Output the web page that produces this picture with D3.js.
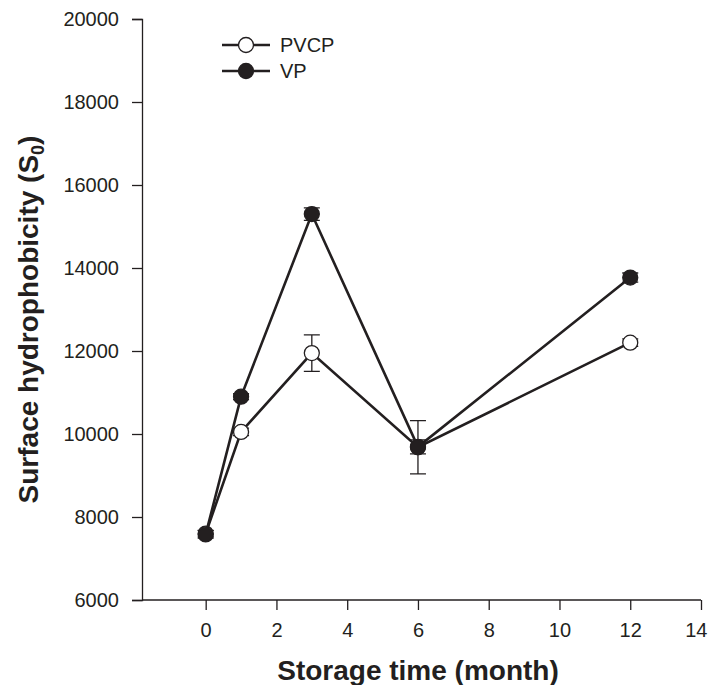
<!DOCTYPE html>
<html>
<head>
<meta charset="utf-8">
<script src="https://cdn.jsdelivr.net/npm/d3@7"></script>
<style>
  body { margin: 0; background: #fff; }
  text { font-family: "Liberation Sans", Arial, sans-serif; fill: #231f20; }
</style>
</head>
<body>
<div id="chart"></div>
<script>
(function hydrophobicity() {

  let width = 708,
    height = 685,
    margin = ({ top: 19, right: 7, bottom: 85, left: 142 });

  // storage time in months
  const months = [0, 1, 3, 6, 12];
  const pvcp = [7600, 10050, 11950, 9680, 12200];
  const pvcpErr = [80, 90, 440, 640, 90];
  const vp = [7580, 10900, 15300, 9690, 13770];
  const vpErr = [90, 70, 150, 170, 110];
  const xTicks = [0, 2, 4, 6, 8, 10, 12, 14];
  const yTicks = [6000, 8000, 10000, 12000, 14000, 16000, 18000, 20000];

  const svg = d3.select("#chart")
    .append("svg")
    .attr("width", width)
    .attr("height", height);

  let x = d3.scaleLinear()
    .domain([-1.8, 14])
    .range([margin.left, width - margin.right]);

  let y = d3.scaleLinear()
    .domain([6000, 20000])
    .range([height - margin.bottom, margin.top]);

  let xAxis = svg.append("g")
    .attr("transform", `translate(0,${y(6000)})`)
    .call(d3.axisBottom(x).tickValues(xTicks).tickSize(10).tickPadding(13));

  let yAxis = svg.append("g")
    .attr("transform", `translate(${margin.left},0)`)
    .call(d3.axisLeft(y).tickValues(yTicks).tickFormat(d3.format("d")).tickSize(10).tickPadding(13));

  for (let ax of [xAxis, yAxis]) {
    ax.select(".domain").attr("stroke", "#231f20").attr("stroke-width", 1.3);
    ax.selectAll(".tick line").attr("stroke", "#231f20").attr("stroke-width", 1.3);
    ax.selectAll(".tick text")
      .attr("font-size", 20)
      .attr("font-family", "Liberation Sans, Arial, sans-serif")
      .attr("fill", "#231f20");
  }
  // x axis line reaches the end of the plot
  xAxis.select(".domain").attr("d", `M${x(-1.8)},0H${x(14)}`);
  // last label sits against the page edge
  xAxis.selectAll(".tick text").filter(d => d === 14).attr("text-anchor", "end").attr("dx", 6);

  svg.append("text")
    .attr("x", 418)
    .attr("y", 680)
    .attr("text-anchor", "middle")
    .attr("font-size", 28)
    .attr("font-weight", "bold")
    .text("Storage time (month)");

  let yTitle = svg.append("text")
    .attr("transform", `translate(38,${(y(6000) + y(20000)) / 2 + 10}) rotate(-90)`)
    .attr("text-anchor", "middle")
    .attr("font-size", 28)
    .attr("font-weight", "bold");
  yTitle.append("tspan").text("Surface hydrophobicity (S");
  yTitle.append("tspan").attr("font-size", 18).attr("dy", 6).text("0");
  yTitle.append("tspan").attr("dy", -6).text(")");

  let series = [
    { name: "PVCP", values: pvcp, err: pvcpErr, fill: "#fff" },
    { name: "VP", values: vp, err: vpErr, fill: "#231f20" }
  ];

  let line = d3.line()
    .x((d, i) => x(months[i]))
    .y(d => y(d));

  for (let s of series) {
    let g = svg.append("g");

    g.append("path")
      .datum(s.values)
      .attr("fill", "none")
      .attr("stroke", "#231f20")
      .attr("stroke-width", 2.6)
      .attr("d", line);

    s.values.forEach((v, i) => {
      let cx = x(months[i]);
      let e = s.err[i];
      g.append("path")
        .attr("fill", "none")
        .attr("stroke", "#231f20")
        .attr("stroke-width", 1.3)
        .attr("d", `M${cx},${y(v + e)}V${y(v - e)}M${cx - 8},${y(v + e)}H${cx + 8}M${cx - 8},${y(v - e)}H${cx + 8}`);
    });

    g.selectAll("circle")
      .data(s.values)
      .join("circle")
      .attr("cx", (d, i) => x(months[i]))
      .attr("cy", d => y(d))
      .attr("r", 7.5)
      .attr("fill", s.fill)
      .attr("stroke", "#231f20")
      .attr("stroke-width", 1.3);
  }

  // legend
  let legend = svg.append("g");
  series.forEach((s, i) => {
    let ly = 45 + i * 26;
    legend.append("line")
      .attr("x1", 222).attr("x2", 270)
      .attr("y1", ly).attr("y2", ly)
      .attr("stroke", "#231f20")
      .attr("stroke-width", 2.6);
    legend.append("circle")
      .attr("cx", 246).attr("cy", ly).attr("r", 7.5)
      .attr("fill", s.fill)
      .attr("stroke", "#231f20")
      .attr("stroke-width", 1.3);
    legend.append("text")
      .attr("x", 280).attr("y", ly)
      .attr("dominant-baseline", "central")
      .attr("font-size", 20)
      .text(s.name);
  });

})();
</script>
</body>
</html>
